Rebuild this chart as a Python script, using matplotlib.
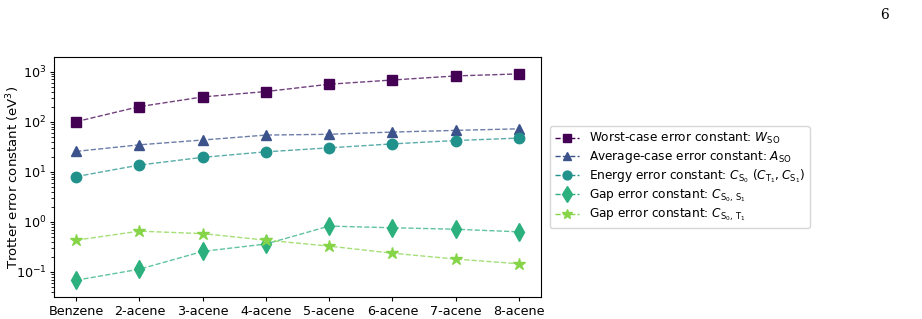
import numpy as np
import matplotlib
matplotlib.use("Agg")
import matplotlib.pyplot as plt

# molecules on the x axis
molecules = ["Benzene", "2-acene", "3-acene", "4-acene", "5-acene", "6-acene", "7-acene", "8-acene"]

# Trotter error constants (eV^3)
worst_case = [100, 200, 312, 400, 560, 680, 820, 900]
average_case = [25.5, 34.5, 43, 54, 56, 62, 67, 72]
energy_err = [8.0, 13.6, 19.4, 25, 30, 36, 42, 47]
gap_s0_s1 = [0.068, 0.113, 0.256, 0.36, 0.82, 0.76, 0.71, 0.63]
gap_s0_t1 = [0.43, 0.65, 0.58, 0.43, 0.326, 0.236, 0.18, 0.145]

labels = [
    r"Worst-case error constant: $W_{\mathrm{SO}}$",
    r"Average-case error constant: $A_{\mathrm{SO}}$",
    r"Energy error constant: $C_{\mathrm{S}_0}$ ($C_{\mathrm{T}_1}, C_{\mathrm{S}_1}$)",
    r"Gap error constant: $C_{\mathrm{S}_0,\,\mathrm{S}_1}$",
    r"Gap error constant: $C_{\mathrm{S}_0,\,\mathrm{T}_1}$",
]
series = [worst_case, average_case, energy_err, gap_s0_s1, gap_s0_t1]
markers = ["s", "^", "o", "d", "*"]
sizes = [7.5, 7.5, 7.5, 9, 9]
colors = plt.cm.viridis([0.0, 0.25, 0.5, 0.64, 0.82])

fig = plt.figure(figsize=(9.22, 3.19), dpi=100)
ax = fig.add_axes([0.0586, 0.068, 0.5282, 0.753])

x = np.arange(len(molecules))
for vals, lab, m, ms, c in zip(series, labels, markers, sizes, colors):
    ax.plot(x, vals, linestyle="--", linewidth=1.0, color=c, alpha=0.75)
    ax.plot(x, vals, linestyle="none", marker=m, markersize=ms, color=c)

# proxy handles so the legend shows dashed line + opaque marker
handles = []
for lab, m, ms, c in zip(labels, markers, sizes, colors):
    h, = ax.plot([], [], linestyle="--", linewidth=1.0, color=c, marker=m,
                 markersize=ms * 0.85, label=lab)
    handles.append(h)

ax.set_yscale("log")
ax.set_ylim(0.031, 1950)
ax.set_xlim(-0.35, 7.35)
ax.set_xticks(x)
ax.set_xticklabels(molecules, fontsize=9.2)
ax.tick_params(axis="both", labelsize=9.2, length=3, pad=2.5)
ax.set_ylabel(r"Trotter error constant (eV$^3$)", fontsize=9.5)
ax.yaxis.set_label_coords(-0.066, 0.5)

ax.legend(handles=handles, loc="center left", bbox_to_anchor=(1.006, 0.5),
          fontsize=8.7, handlelength=2.0, labelspacing=0.22, borderpad=0.4,
          handletextpad=0.8)

fig.text(0.955, 0.94, "6", fontsize=10, family="DejaVu Serif")

fig.savefig("out.png", dpi=100)
